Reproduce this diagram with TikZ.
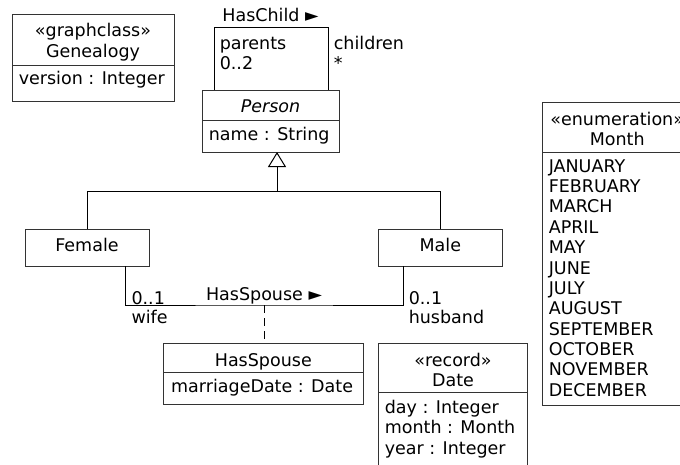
\documentclass[tikz,border=0pt]{standalone}
\usepackage{fontspec}
\setmainfont{DejaVu Sans}
\usetikzlibrary{arrows.meta}
\newcommand{\dgfont}{\fontsize{17.5pt}{20.35pt}\selectfont}
\begin{document}
\begin{tikzpicture}[x=1pt,y=-1pt, line width=1pt,
  box/.style={draw=black!80, inner sep=0pt, outer sep=0pt, anchor=north west},
  divider/.style={draw=black!80},
  lbl/.style={inner sep=0pt, anchor=base west, font=\dgfont},
  clbl/.style={inner sep=0pt, anchor=base, font=\dgfont},
  gen/.style={-{Triangle[open,length=15pt,width=18pt]}},
  dep/.style={dash pattern=on 8pt off 5pt}]
\useasboundingbox (0,0) rectangle (680,464);
\clip (0,0) rectangle (680,464);
% boxes
\node[box, minimum width=162pt, minimum height=87pt] (genealogy) at (12,14) {};
\node[box, minimum width=137pt, minimum height=62pt] (person) at (202,90) {};
\node[box, minimum width=124pt, minimum height=37pt] (female) at (25,229) {};
\node[box, minimum width=124.7pt, minimum height=37pt] (male) at (378,229) {};
\node[box, minimum width=200pt, minimum height=60.7pt] (hsbox) at (163.3,343.3) {};
\node[box, minimum width=149.4pt, minimum height=140pt] (date) at (378.3,343.3) {};
\node[box, minimum width=150pt, minimum height=302.3pt] (month) at (542.3,102.7) {};
% dividers
\draw[divider] (genealogy.west |- 0,65.3) -- (genealogy.east |- 0,65.3);
\draw[divider] (person.west |- 0,120.7) -- (person.east |- 0,120.7);
\draw[divider] (hsbox.west |- 0,372.7) -- (hsbox.east |- 0,372.7);
\draw[divider] (date.west |- 0,392.7) -- (date.east |- 0,392.7);
\draw[divider] (month.west |- 0,152.7) -- (month.east |- 0,152.7);
% texts
\node[clbl] (t1) at (93,36.5) {«graphclass»};
\node[clbl] (t2) at (93,57) {Genealogy};
\node[lbl] (t3) at (18.3,84.3) {version : Integer};
\node[clbl] (t4) at (270.5,112.3) {\itshape Person};
\node[lbl] (t5) at (208.3,140) {name : String};
\node[clbl] (t6) at (87,251.7) {Female};
\node[clbl] (t7) at (440.3,251.7) {Male};
\node[clbl] (t8) at (263.3,366.7) {HasSpouse};
\node[lbl] (t9) at (170.7,392.7) {marriageDate : Date};
\node[clbl] (t10) at (453,366) {«record»};
\node[clbl] (t11) at (453,386.7) {Date};
\node[lbl] (t12) at (384.3,413.3) {day : Integer};
\node[lbl] (t13) at (384.3,433.7) {month : Month};
\node[lbl] (t14) at (384.3,454) {year : Integer};
\node[clbl] (t15) at (617.2,125.5) {«enumeration»};
\node[clbl] (t16) at (617.2,145.7) {Month};
\foreach \m [count=\i] in {JANUARY,FEBRUARY,MARCH,APRIL,MAY,JUNE,JULY,AUGUST,SEPTEMBER,OCTOBER,NOVEMBER,DECEMBER}
  \node[lbl] (m\i) at (548.3,{172.3+20.34*(\i-1)}) {\m};
% HasChild
\coordinate (hctop) at (271,27.7);
\draw ([xshift=-56.5pt]person.north) |- (hctop) -| ([xshift=57.5pt]person.north);
\node[clbl] (hcl) at (270.5,21.7) {HasChild ►};
\node[lbl] (par) at (219.3,49.7) {parents};
\node[lbl] (par2) at (219.3,69.5) {0..2};
\node[lbl] (chi) at (333.3,49.7) {children};
\node[lbl] (chi2) at (333.3,69.5) {*};
% generalization
\coordinate (gj) at (277,191.7);
\draw[gen] (gj) -- (gj |- person.south);
\draw (female.north) |- (gj) -| (male.north);
% HasSpouse
\coordinate (midsp) at (264,305);
\draw ([xshift=38.7pt]female.south) |- (midsp) -| ([xshift=-37pt]male.south);
\draw[dep] (midsp) -- (midsp |- hsbox.north);
\node[clbl] (hsl) at (264,300) {HasSpouse ►};
\node[lbl] (w1) at (131,304) {0..1};
\node[lbl] (w2) at (131,323.3) {wife};
\node[lbl] (h1) at (408.3,304) {0..1};
\node[lbl] (h2) at (408.3,323.3) {husband};
\end{tikzpicture}
\end{document}
